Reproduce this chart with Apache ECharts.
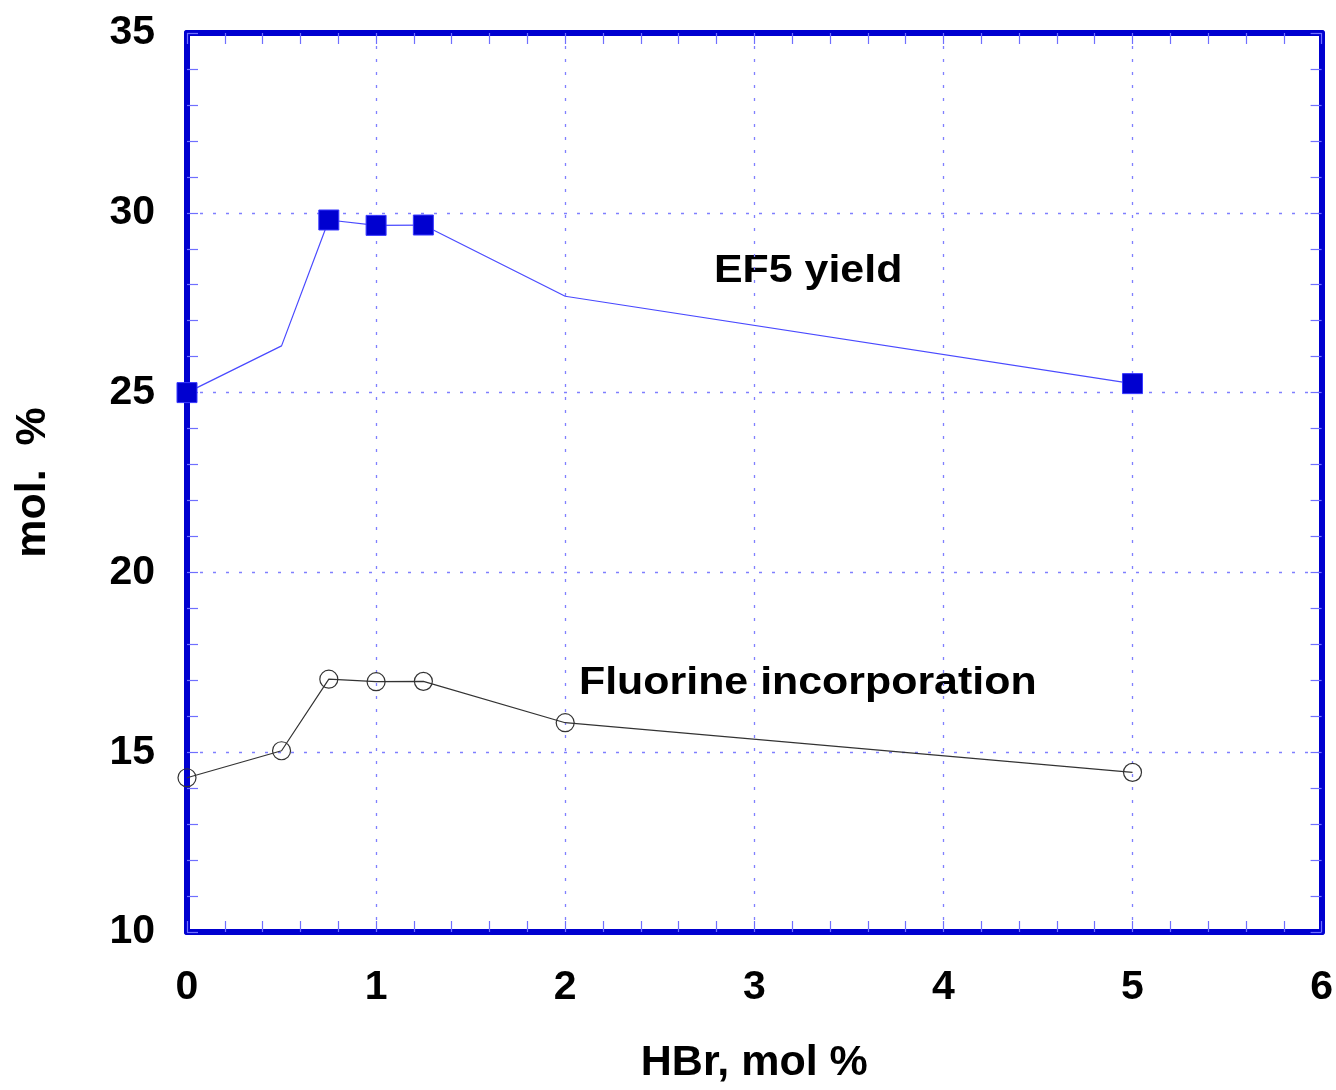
<!DOCTYPE html>
<html><head><meta charset="utf-8">
<style>html,body{margin:0;padding:0;background:#fff}#c{width:1336px;height:1090px}</style>
<script src="https://cdn.jsdelivr.net/npm/echarts@6/dist/echarts.min.js"></script>
</head><body><div id="c"></div>
<script>
const hbr = [0, 0.5, 0.75, 1, 1.25, 2, 5];
const ef5Yield = [25.0, 26.3, 29.8, 29.65, 29.66, 27.68, 25.25];
const ef5Marked = [true, false, true, true, true, false, true];
const fluorine = [14.29, 15.04, 17.03, 16.96, 16.97, 15.82, 14.44];
const xTicks = [0, 1, 2, 3, 4, 5, 6];
const yTicks = [10, 15, 20, 25, 30, 35];

const BLUE = '#0000d0';
const FONT = 'Liberation Sans';
const gridLine = {show: true, lineStyle: {color: '#7f7fff', type: [3, 10], width: 1.3}};
const tickStyle = {lineStyle: {color: '#6f6fff', width: 1.2}};

function xAxisDef(pos, main) {
  return {
    type: 'value', position: pos, min: xTicks[0], max: xTicks[xTicks.length - 1], interval: 1,
    name: main ? 'HBr, mol %' : '', nameLocation: 'middle', nameGap: 110,
    nameTextStyle: {fontFamily: FONT, fontWeight: 'bold', fontSize: 43, color: '#000'},
    axisLine: {show: true, onZero: false, lineStyle: {color: BLUE, width: 6}},
    axisTick: Object.assign({show: true, inside: true, length: 11}, tickStyle),
    minorTick: Object.assign({show: true, splitNumber: 5, length: 11}, tickStyle),
    axisLabel: {show: main, margin: 35, fontFamily: FONT, fontWeight: 'bold', fontSize: 41, color: '#000'},
    splitLine: main ? gridLine : {show: false}
  };
}
function yAxisDef(pos, main) {
  return {
    type: 'value', position: pos, min: yTicks[0], max: yTicks[yTicks.length - 1], interval: 5,
    name: main ? 'mol.  %' : '', nameLocation: 'middle', nameGap: 132, nameRotate: 90,
    nameTextStyle: {fontFamily: FONT, fontWeight: 'bold', fontSize: 43, color: '#000'},
    axisLine: {show: true, onZero: false, lineStyle: {color: BLUE, width: 6}},
    axisTick: Object.assign({show: true, inside: true, length: 11}, tickStyle),
    minorTick: Object.assign({show: true, splitNumber: 5, length: 11}, tickStyle),
    axisLabel: {show: main, margin: 32, fontFamily: FONT, fontWeight: 'bold', fontSize: 41, color: '#000'},
    splitLine: main ? gridLine : {show: false}
  };
}

const chart = echarts.init(document.getElementById('c'), null, {renderer: 'canvas'});
chart.setOption({
  animation: false,
  backgroundColor: '#fff',
  grid: {left: 187, right: 13, top: 33, bottom: 154},
  xAxis: [xAxisDef('bottom', true), xAxisDef('top', false)],
  yAxis: [yAxisDef('left', true), yAxisDef('right', false)],
  series: [
    {
      type: 'line', xAxisIndex: 0, yAxisIndex: 0, z: 5,
      data: hbr.map((x, i) => ef5Marked[i] ? [x, ef5Yield[i]] : {value: [x, ef5Yield[i]], symbol: 'none'}),
      symbol: 'rect', symbolSize: 20, showAllSymbol: true,
      lineStyle: {color: '#4a4aff', width: 1.2},
      itemStyle: {color: BLUE, borderColor: '#3a3aff', borderWidth: 1}
    },
    {
      type: 'line', xAxisIndex: 0, yAxisIndex: 0, z: 5,
      data: hbr.map((x, i) => [x, fluorine[i]]),
      symbol: 'circle', symbolSize: 18, showAllSymbol: true,
      lineStyle: {color: '#333', width: 1.2},
      itemStyle: {color: 'rgba(255,255,255,0)', borderColor: '#333', borderWidth: 1.2}
    }
  ],
  graphic: [
    {type: 'text', x: 714, y: 271, scaleX: 1.1, style: {text: 'EF5 yield', font: 'bold 39px "Liberation Sans"', fill: '#000', verticalAlign: 'middle'}},
    {type: 'text', x: 579, y: 683, scaleX: 1.1, style: {text: 'Fluorine incorporation', font: 'bold 39px "Liberation Sans"', fill: '#000', verticalAlign: 'middle'}}
  ]
});
</script></body></html>
